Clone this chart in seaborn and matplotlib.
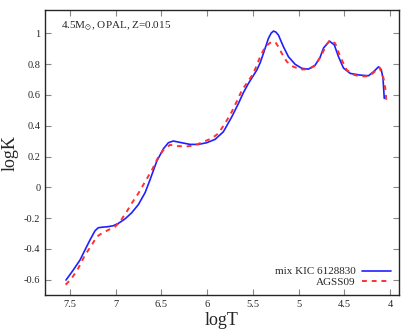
import pandas as pd
import matplotlib
matplotlib.use("Agg")
import matplotlib.pyplot as plt
import seaborn as sns

# mix KIC 6128830 (blue, solid)
logt_mix = [7.543, 7.464, 7.390, 7.336, 7.281, 7.226, 7.190, 7.135, 7.080, 7.026,
            6.971, 6.898, 6.825, 6.752, 6.679, 6.624, 6.551, 6.479, 6.424, 6.370,
            6.296, 6.187, 6.096, 6.004, 5.913, 5.823, 5.731, 5.658, 5.604, 5.549,
            5.457, 5.420, 5.385, 5.330, 5.300, 5.275, 5.250, 5.221, 5.166, 5.111,
            5.038, 4.965, 4.893, 4.819, 4.765, 4.728, 4.663, 4.610, 4.564, 4.510,
            4.436, 4.327, 4.236, 4.181, 4.127, 4.097, 4.078, 4.064]
logk_mix = [-0.602, -0.537, -0.472, -0.407, -0.342, -0.282, -0.262, -0.258, -0.255, -0.249,
            -0.234, -0.205, -0.165, -0.112, -0.035, 0.050, 0.170, 0.250, 0.290, 0.301,
            0.292, 0.279, 0.279, 0.290, 0.312, 0.361, 0.458, 0.545, 0.615, 0.675,
            0.762, 0.810, 0.870, 0.968, 1.002, 1.015, 1.009, 0.989, 0.913, 0.848,
            0.799, 0.773, 0.768, 0.794, 0.845, 0.905, 0.950, 0.925, 0.848, 0.775,
            0.740, 0.729, 0.725, 0.751, 0.783, 0.765, 0.708, 0.578]

# AGSS09 (red, dashed)
logt_agss = [7.547, 7.481, 7.409, 7.336, 7.262, 7.208, 7.153, 7.081, 7.007, 6.953,
             6.880, 6.825, 6.752, 6.679, 6.606, 6.540, 6.479, 6.406, 6.332, 6.223,
             6.132, 6.041, 5.949, 5.877, 5.804, 5.731, 5.669, 5.621, 5.494, 5.421,
             5.366, 5.312, 5.257, 5.221, 5.184, 5.129, 5.057, 4.965, 4.893, 4.819,
             4.740, 4.700, 4.655, 4.600, 4.546, 4.473, 4.400, 4.327, 4.225, 4.116,
             4.072, 4.053, 4.042]
logk_agss = [-0.632, -0.591, -0.526, -0.440, -0.375, -0.321, -0.299, -0.277, -0.256, -0.223,
             -0.158, -0.104, -0.039, 0.036, 0.110, 0.190, 0.242, 0.276, 0.268, 0.266,
             0.273, 0.296, 0.318, 0.351, 0.416, 0.491, 0.567, 0.630, 0.740, 0.848,
             0.913, 0.939, 0.945, 0.913, 0.870, 0.816, 0.783, 0.766, 0.767, 0.790,
             0.870, 0.925, 0.957, 0.935, 0.848, 0.762, 0.732, 0.720, 0.723, 0.779,
             0.708, 0.643, 0.567]

xticks = [7.5, 7, 6.5, 6, 5.5, 5, 4.5, 4]
yticks = [-0.6, -0.4, -0.2, 0, 0.2, 0.4, 0.6, 0.8, 1]

sns.set_style("ticks")
plt.rcParams["font.family"] = ["Liberation Serif", "DejaVu Serif"]
plt.rcParams["mathtext.fontset"] = "stix"

df_mix = pd.DataFrame({"logT": logt_mix, "logK": logk_mix})
df_agss = pd.DataFrame({"logT": logt_agss, "logK": logk_agss})

fig = plt.figure(figsize=(4.15, 3.32), dpi=100)
ax = fig.add_axes([0.109, 0.111, 0.852, 0.858])

sns.lineplot(data=df_mix, x="logT", y="logK", sort=False, ax=ax,
             color="#2020ff", linewidth=1.2, label="mix KIC 6128830")
sns.lineplot(data=df_agss, x="logT", y="logK", sort=False, ax=ax,
             color="#ff3030", linewidth=1.4, linestyle=(0, (2.5, 2.5)), label="AGSS09")

ax.set_xlim(7.77, 3.905)
ax.set_ylim(-0.7, 1.15)
ax.set_xticks(xticks)
ax.set_xticklabels(["7.5", "7", "6.5", "6", "5.5", "5", "4.5", "4"])
ax.set_yticks(yticks)
ax.set_yticklabels(["-0.6", "-0.4", "-0.2", "0", "0.2", "0.4", "0.6", "0.8", "1"])
ax.tick_params(direction="in", length=4, width=0.8, labelsize=7.5,
               top=True, right=True, color="#888888")
for sp in ax.spines.values():
    sp.set_linewidth(1.0)

ax.set_xlabel("logT", fontsize=13, labelpad=2)
ax.set_ylabel("logK", fontsize=13, labelpad=4)

ax.text(0.045, 0.965, r"4.5M$_{\odot}$, OPAL, Z=0.015", transform=ax.transAxes,
        fontsize=8, va="top", ha="left")

leg = ax.legend(loc="lower right", frameon=False, fontsize=8, markerfirst=False,
                handlelength=2.6, borderaxespad=0.3, labelspacing=0.1,
                handletextpad=0.6)

fig.savefig("out.png", dpi=100)
plt.close(fig)
